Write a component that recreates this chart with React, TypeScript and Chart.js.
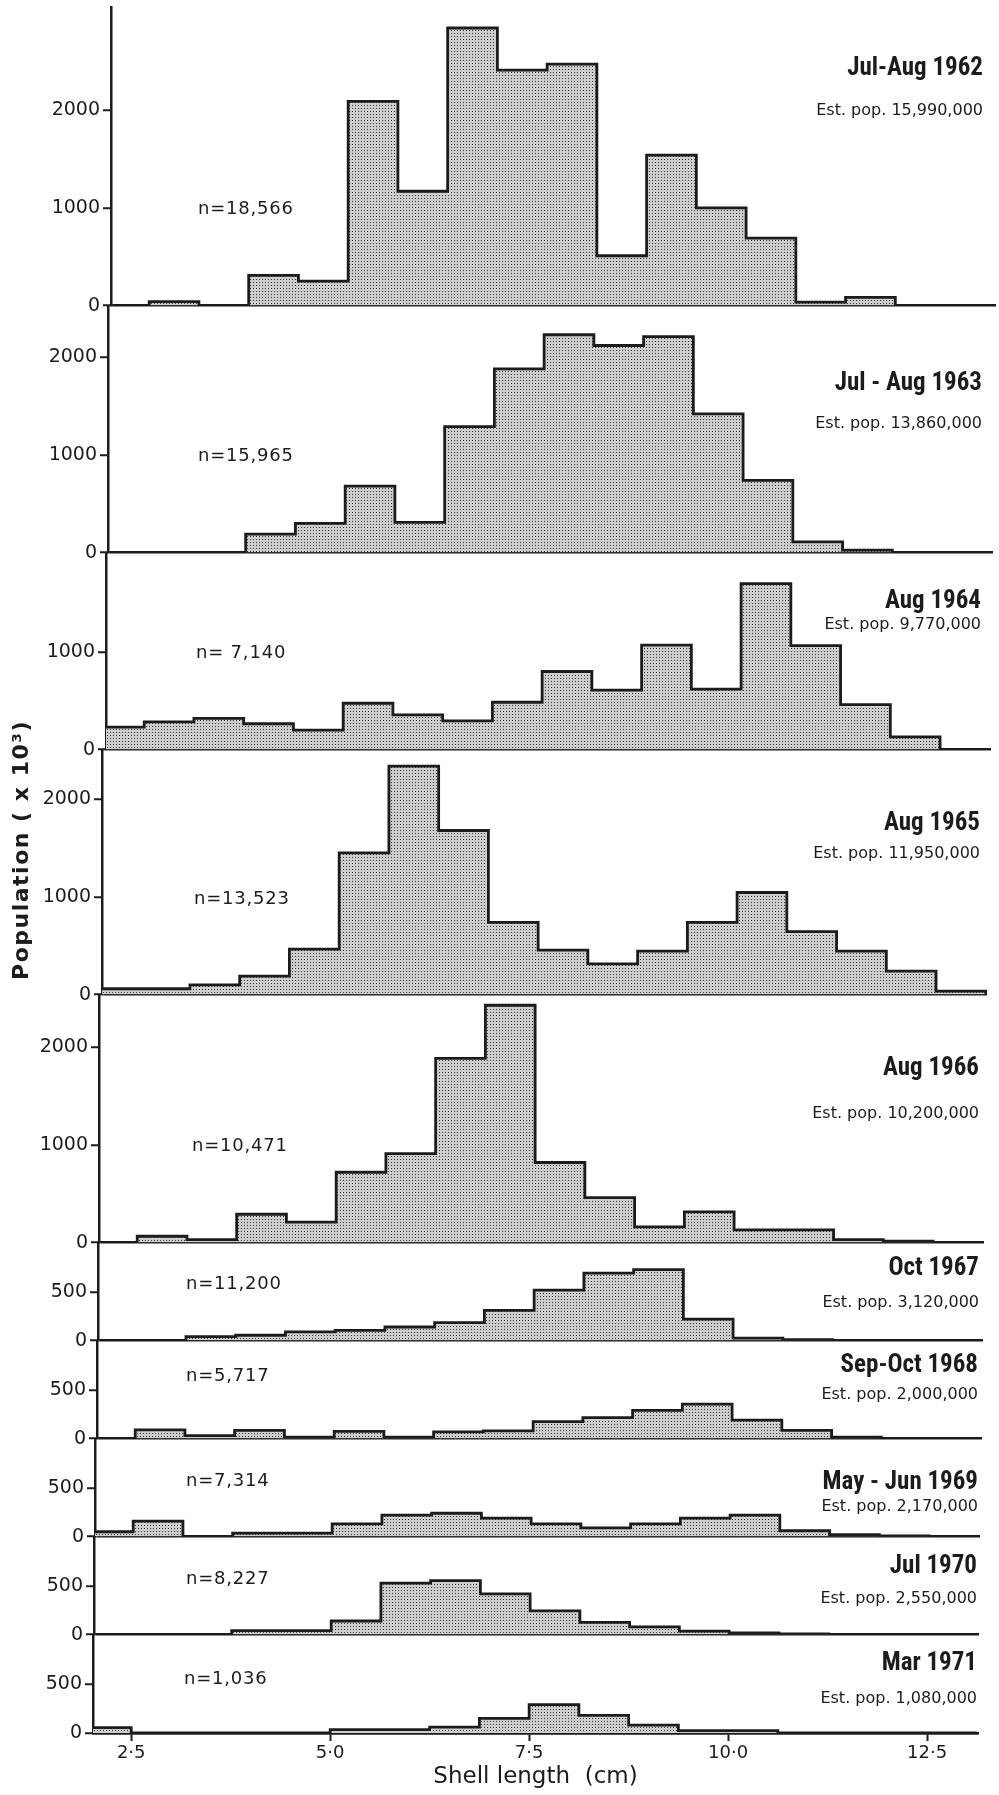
import React, { useEffect, useRef } from "react";
import { Chart, registerables } from "chart.js";

Chart.register(...registerables);

// ---------- data ----------
// bin edges in cm (0.625 cm classes)
const binEdges = [1.875, 2.5, 3.125, 3.75, 4.375, 5.0, 5.625, 6.25, 6.875, 7.5, 8.125, 8.75, 9.375, 10.0, 10.625, 11.25, 11.875, 12.5, 13.125];

// population (x 10^3) per size class
const julAug1962 = [0, 40, 0, 310, 250, 2090, 1170, 2840, 2410, 2470, 510, 1540, 1000, 690, 35, 85, 0, 0];
const julAug1963 = [0, 0, 0, 190, 300, 680, 310, 1290, 1880, 2230, 2120, 2210, 1420, 740, 110, 25, 0, 0];
const aug1964 = [230, 285, 320, 265, 200, 475, 355, 295, 485, 800, 610, 1070, 620, 1700, 1065, 460, 130, 0];
const aug1965 = [60, 60, 100, 190, 465, 1450, 2340, 1680, 740, 455, 315, 445, 740, 1045, 645, 445, 240, 35];
const aug1966 = [0, 65, 30, 290, 210, 720, 910, 1885, 2430, 820, 460, 160, 315, 130, 130, 30, 15, 0];
const oct1967 = [0, 0, 40, 55, 90, 105, 140, 185, 310, 520, 695, 730, 220, 25, 10, 0, 0, 0];
const sepOct1968 = [0, 90, 30, 85, 15, 75, 15, 70, 80, 175, 215, 290, 355, 190, 85, 15, 0, 0];
const mayJun1969 = [50, 160, 0, 35, 35, 130, 220, 240, 190, 130, 90, 130, 190, 220, 60, 20, 8, 0];
const jul1970 = [0, 0, 0, 40, 40, 140, 530, 555, 420, 245, 125, 80, 35, 18, 8, 0, 0, 0];
const mar1971 = [55, 0, 0, 0, 0, 35, 35, 60, 150, 290, 180, 80, 25, 25, 0, 0, 0, 0];

const panelSeries = [julAug1962, julAug1963, aug1964, aug1965, aug1966, oct1967, sepOct1968, mayJun1969, jul1970, mar1971];

const panelTitles = ["Jul-Aug 1962", "Jul - Aug 1963", "Aug 1964", "Aug 1965", "Aug 1966", "Oct 1967", "Sep-Oct 1968", "May - Jun 1969", "Jul 1970", "Mar 1971"];
const panelPops = ["Est. pop. 15,990,000", "Est. pop. 13,860,000", "Est. pop. 9,770,000", "Est. pop. 11,950,000", "Est. pop. 10,200,000", "Est. pop. 3,120,000", "Est. pop. 2,000,000", "Est. pop. 2,170,000", "Est. pop. 2,550,000", "Est. pop. 1,080,000"];
const panelCounts = ["n=18,566", "n=15,965", "n= 7,140", "n=13,523", "n=10,471", "n=11,200", "n=5,717", "n=7,314", "n=8,227", "n=1,036"];

const panelYTicks = [
  [0, 1000, 2000],
  [0, 1000, 2000],
  [0, 1000],
  [0, 1000, 2000],
  [0, 1000, 2000],
  [0, 500],
  [0, 500],
  [0, 500],
  [0, 500],
  [0, 500],
];

const xTickValues = [2.5, 5, 7.5, 10, 12.5];
const xTickLabels = ["2·5", "5·0", "7·5", "10·0", "12·5"];

// ---------- layout ----------
const INK = "#1c1c1c";
const AXIS_TOP = 7;
const panelZero = [306, 553, 750, 995, 1243, 1341, 1439, 1537, 1635, 1733];
const panelShift = [18, 15, 13, 9, 6, 5, 4, 2, 1, 0];
const PX_PER_UNIT = 0.098;
const AXIS_X = 93;
const AREA_RIGHT = 978;
const TEXT_RIGHT = 977;
const CANVAS_W = 992;
const PAD = 14;
const XAXIS_H = 60;
const X_MIN = 2.02;
const X_MAX = 13.14;

const titleY = [67, 382, 600, 822, 1067, 1267, 1364, 1481, 1565, 1662];
const popY = [110, 423, 624, 853, 1113, 1302, 1394, 1506, 1598, 1698];
const countY = [208, 455, 652, 898, 1145, 1283, 1375, 1480, 1578, 1678];
const countX = [198, 198, 196, 194, 192, 186, 186, 186, 186, 184];

const SANS = '"DejaVu Sans", "Noto Sans", sans-serif';
const NARROW = '"Liberation Sans Narrow", "Roboto Condensed", "DejaVu Sans Condensed", "Liberation Sans", sans-serif';

function makePattern(): CanvasPattern | string {
  const c = document.createElement("canvas");
  c.width = 3;
  c.height = 3;
  const g = c.getContext("2d");
  if (!g) return "#c0c0c0";
  g.fillStyle = "#cdcdcd";
  g.fillRect(0, 0, 3, 3);
  g.fillStyle = "#3a3a3a";
  g.fillRect(1, 1, 1, 1);
  return g.createPattern(c, "repeat") || "#c0c0c0";
}

function Panel({ index }: { index: number }) {
  const ref = useRef<HTMLCanvasElement>(null);
  const isBottom = index === panelSeries.length - 1;
  const top = index === 0 ? AXIS_TOP : panelZero[index - 1];
  const zero = panelZero[index];
  const shift = panelShift[index];
  const height = zero - top + PAD + (isBottom ? XAXIS_H : PAD);
  const yMax = (zero - top) / PX_PER_UNIT;

  useEffect(() => {
    const canvas = ref.current;
    if (!canvas) return;
    const values = panelSeries[index];
    const points = [
      { x: binEdges[0], y: 0 },
      ...values.map((v, i) => ({ x: binEdges[i], y: v })),
      { x: binEdges[values.length], y: 0 },
    ];
    const yTicks = panelYTicks[index];
    const chart = new Chart(canvas, {
      type: "line",
      data: {
        datasets: [
          {
            data: points,
            stepped: "before",
            fill: "origin",
            backgroundColor: makePattern() as any,
            borderColor: INK,
            borderWidth: 2.8,
            pointRadius: 0,
            tension: 0,
            borderJoinStyle: "miter",
          } as any,
        ],
      },
      options: {
        responsive: false,
        animation: false,
        devicePixelRatio: 1,
        events: [],
        layout: {
          padding: { top: PAD, bottom: isBottom ? 0 : PAD, left: 0, right: CANVAS_W - AREA_RIGHT },
        },
        plugins: {
          legend: { display: false },
          tooltip: { enabled: false },
          title: { display: false },
        },
        scales: {
          x: isBottom
            ? {
                type: "linear",
                min: X_MIN,
                max: X_MAX,
                afterFit: (s: any) => {
                  s.height = XAXIS_H;
                },
                afterBuildTicks: (s: any) => {
                  s.ticks = xTickValues.map((v) => ({ value: v }));
                },
                ticks: {
                  autoSkip: false,
                  maxRotation: 0,
                  padding: 2,
                  color: INK,
                  font: { family: SANS, size: 18 },
                  callback: (v: any) => {
                    const k = xTickValues.indexOf(Number(v));
                    return k >= 0 ? xTickLabels[k] : "";
                  },
                },
                grid: {
                  drawOnChartArea: false,
                  drawTicks: true,
                  tickLength: 8,
                  tickWidth: 2,
                  tickColor: INK,
                },
                border: { display: true, color: INK, width: 2.5 },
                title: {
                  display: true,
                  text: "Shell length  (cm)",
                  color: INK,
                  font: { family: SANS, size: 23 },
                  padding: { top: 0, bottom: 2 },
                },
                z: 1,
              }
            : { type: "linear", min: X_MIN, max: X_MAX, display: false },
          y: {
            min: 0,
            max: yMax,
            afterFit: (s: any) => {
              s.width = AXIS_X;
            },
            afterBuildTicks: (s: any) => {
              s.ticks = yTicks.map((v) => ({ value: v }));
            },
            ticks: {
              padding: 3,
              color: INK,
              font: { family: SANS, size: 19 },
              callback: (v: any) => String(v),
            },
            grid: {
              color: (ctx: any) => (ctx.tick && ctx.tick.value === 0 ? INK : "rgba(0,0,0,0)"),
              lineWidth: 2.5,
              drawOnChartArea: true,
              drawTicks: true,
              tickLength: 8,
              tickWidth: 2,
              tickColor: INK,
            },
            border: { display: true, color: INK, width: 2.5 },
            z: 1,
          },
        },
      } as any,
    });
    return () => chart.destroy();
  }, [index]);

  return (
    <canvas
      ref={ref}
      width={CANVAS_W}
      height={height}
      style={{ position: "absolute", left: shift, top: top - PAD, width: CANVAS_W, height }}
    />
  );
}

export default function App() {
  return (
    <div
      style={{
        position: "absolute",
        left: 0,
        top: 0,
        width: 999,
        height: 1795,
        overflow: "hidden",
        background: "#ffffff",
        color: INK,
      }}
    >
      {panelSeries.map((_, i) => (
        <Panel key={i} index={i} />
      ))}
      {panelSeries.map((_, i) => {
        const right = TEXT_RIGHT + Math.round(panelShift[i] / 3);
        return (
          <React.Fragment key={"t" + i}>
            <div
              style={{
                position: "absolute",
                left: 0,
                width: right,
                top: titleY[i] - 16,
                height: 32,
                lineHeight: "32px",
                textAlign: "right",
                fontFamily: NARROW,
                fontWeight: "bold",
                fontSize: 25,
                whiteSpace: "nowrap",
              }}
            >
              {panelTitles[i]}
            </div>
            <div
              style={{
                position: "absolute",
                left: 0,
                width: right,
                top: popY[i] - 10,
                height: 20,
                lineHeight: "20px",
                textAlign: "right",
                fontFamily: SANS,
                fontSize: 16,
                whiteSpace: "nowrap",
              }}
            >
              {panelPops[i]}
            </div>
            <div
              style={{
                position: "absolute",
                left: countX[i],
                top: countY[i] - 11,
                height: 22,
                lineHeight: "22px",
                fontFamily: SANS,
                fontSize: 18,
                letterSpacing: 0.8,
                whiteSpace: "nowrap",
              }}
            >
              {panelCounts[i]}
            </div>
          </React.Fragment>
        );
      })}
      <div
        style={{
          position: "absolute",
          left: 21 - 170,
          top: 850 - 14,
          width: 340,
          height: 28,
          lineHeight: "28px",
          textAlign: "center",
          transform: "rotate(-90deg)",
          fontFamily: SANS,
          fontWeight: "bold",
          fontSize: 22,
          letterSpacing: 1.5,
          whiteSpace: "nowrap",
        }}
      >
        Population ( x 10³)
      </div>
    </div>
  );
}
